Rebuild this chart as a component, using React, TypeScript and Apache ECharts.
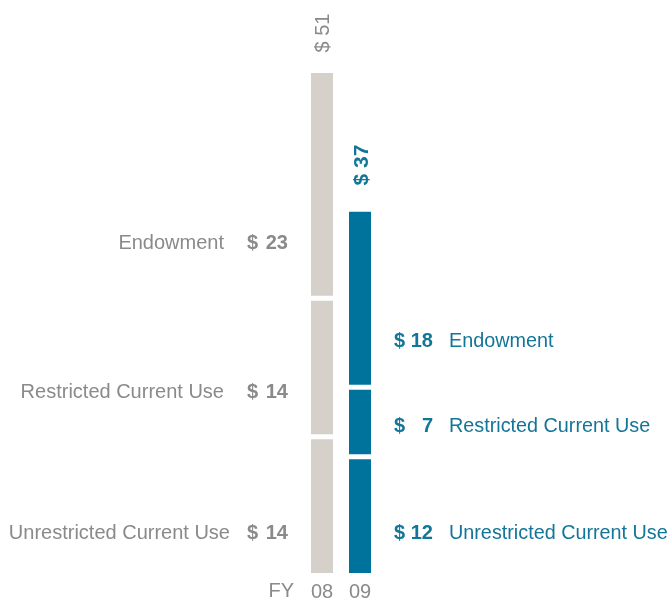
import React, { useEffect, useRef } from "react";
import * as echarts from "echarts";

const years = ["08", "09"];
const segments = ["Unrestricted Current Use", "Restricted Current Use", "Endowment"];
const fy08 = [14, 14, 23];
const fy09 = [12, 7, 18];

const GRAY_BAR = "#d5d1ca";
const BLUE_BAR = "#00739d";
const GRAY_TEXT = "#8a8a8a";
const BLUE_TEXT = "#137598";
const FONT = "'Liberation Sans', Arial, Helvetica, sans-serif";

// label layout (pixels)
const leftRowsY = [532, 391, 242];
const leftNameRight = [230, 224, 224];
const rightRowsY = [532, 425, 340];

export default function App() {
  const ref = useRef<HTMLDivElement>(null);
  useEffect(() => {
    if (!ref.current) return;
    const chart = echarts.init(ref.current, undefined, { renderer: "svg" });
    const total08 = fy08.reduce((a, b) => a + b, 0);
    const total09 = fy09.reduce((a, b) => a + b, 0);

    const series = segments.map((name, i) => ({
      name,
      type: "bar",
      stack: "total",
      barWidth: 27,
      data: [
        { value: fy08[i], itemStyle: { color: GRAY_BAR } },
        { value: fy09[i], itemStyle: { color: BLUE_BAR } },
      ],
      itemStyle: { borderColor: "#ffffff", borderWidth: 2.5 },
      emphasis: { disabled: true },
    }));

    const graphics: any[] = [];
    segments.forEach((name, i) => {
      graphics.push({
        type: "text",
        x: leftNameRight[i],
        y: leftRowsY[i],
        style: { text: name, fill: GRAY_TEXT, font: `20px ${FONT}`, align: "right", verticalAlign: "middle" },
      });
      graphics.push({
        type: "text",
        x: 247,
        y: leftRowsY[i],
        style: { text: "$", fill: GRAY_TEXT, font: `bold 20px ${FONT}`, align: "left", verticalAlign: "middle" },
      });
      graphics.push({
        type: "text",
        x: 288,
        y: leftRowsY[i],
        style: { text: String(fy08[i]), fill: GRAY_TEXT, font: `bold 20px ${FONT}`, align: "right", verticalAlign: "middle" },
      });
      graphics.push({
        type: "text",
        x: 394,
        y: rightRowsY[i],
        style: { text: "$", fill: BLUE_TEXT, font: `bold 20px ${FONT}`, align: "left", verticalAlign: "middle" },
      });
      graphics.push({
        type: "text",
        x: 433,
        y: rightRowsY[i],
        style: { text: String(fy09[i]), fill: BLUE_TEXT, font: `bold 20px ${FONT}`, align: "right", verticalAlign: "middle" },
      });
      graphics.push({
        type: "text",
        x: 449,
        y: rightRowsY[i],
        style: { text: name, fill: BLUE_TEXT, font: `19.8px ${FONT}`, align: "left", verticalAlign: "middle" },
      });
    });
    graphics.push({
      type: "text",
      x: 322,
      y: 33,
      rotation: Math.PI / 2,
      style: { text: `$ ${total08}`, fill: GRAY_TEXT, font: `20px ${FONT}`, align: "center", verticalAlign: "middle" },
    });
    graphics.push({
      type: "text",
      x: 360,
      y: 165,
      rotation: Math.PI / 2,
      style: { text: `$ ${total09}`, fill: BLUE_TEXT, font: `bold 21px ${FONT}`, align: "center", verticalAlign: "middle" },
    });
    graphics.push({
      type: "text",
      x: 294,
      y: 590,
      style: { text: "FY", fill: GRAY_TEXT, font: `20px ${FONT}`, align: "right", verticalAlign: "middle" },
    });

    chart.setOption({
      animation: false,
      grid: { left: 303, width: 76, top: 70.5, height: 505 },
      xAxis: {
        type: "category",
        data: years,
        axisLine: { show: false },
        axisTick: { show: false },
        axisLabel: { color: GRAY_TEXT, fontSize: 20, fontFamily: FONT, margin: 5 },
      },
      yAxis: {
        type: "value",
        min: 0,
        max: Math.max(total08, total09),
        show: false,
        splitLine: { show: false },
      },
      series,
      graphic: graphics,
    });
    return () => chart.dispose();
  }, []);
  return <div ref={ref} style={{ position: "fixed", left: 0, top: 0, width: 670, height: 601 }} />;
}
